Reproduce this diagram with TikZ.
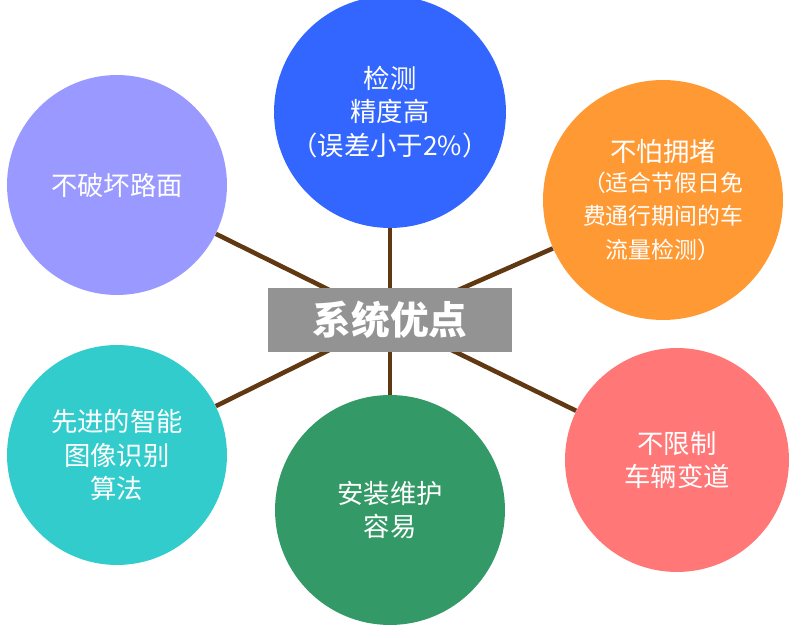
\documentclass[tikz,border=0pt]{standalone}
\usepackage{fontspec}
\setmainfont{Noto Sans CJK SC}
\definecolor{linkbrown}{HTML}{603913}
\definecolor{cblue}{HTML}{3366FF}
\definecolor{corange}{HTML}{FF9933}
\definecolor{cpurple}{HTML}{9999FF}
\definecolor{cteal}{HTML}{33CCCC}
\definecolor{cgreen}{HTML}{339966}
\definecolor{cpink}{HTML}{FF7777}
\begin{document}
\begin{tikzpicture}[x=0.02cm,y=-0.02cm,
    link/.style={linkbrown,line width=2.6pt},
    adv/.style={circle,text=white,align=center,font=\fontsize{15}{19}\selectfont,inner sep=0pt},
    core/.style={fill=gray!85,text=white,font=\fontsize{22}{26}\selectfont\bfseries,
        minimum width=4.88cm,minimum height=1.3cm}]
    \useasboundingbox (0,0) rectangle (806,638);
    \node[adv,fill=cblue,minimum size=4.64cm] (acc) at (390,112) {检测\\精度高\\（误差小于2\%）};
    \node[adv,fill=corange,minimum size=4.8cm] (jam) at (663,200) {不怕拥堵\\[-2pt]\fontsize{13}{17}\selectfont（适合节假日免\\\fontsize{13}{17}\selectfont 费通行期间的车\\\fontsize{13}{17}\selectfont 流量检测）};
    \node[adv,fill=cpurple,minimum size=4.4cm] (road) at (117,185) {不破坏路面};
    \node[adv,fill=cteal,minimum size=4.4cm] (algo) at (117,455) {先进的智能\\图像识别\\算法};
    \node[adv,fill=cgreen,minimum size=4.6cm] (easy) at (390,510) {安装维护\\容易};
    \node[adv,fill=cpink,minimum size=4.48cm] (lane) at (677,460) {不限制\\车辆变道};
    \coordinate (hub) at (390,320);
    \foreach \n in {acc,jam,road,algo,easy,lane}
        \draw[link] (hub) -- (\n);
    \node[core] (sys) at (hub) {系统优点};
\end{tikzpicture}
\end{document}
